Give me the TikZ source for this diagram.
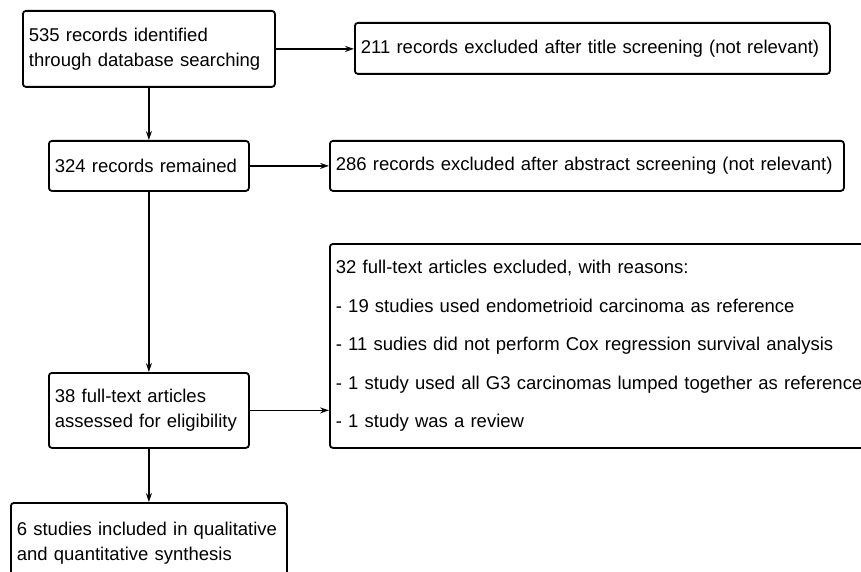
\documentclass[tikz,border=0pt]{standalone}
\usepackage{fontspec}
\setmainfont{Liberation Sans}
\usetikzlibrary{arrows.meta}

\tikzset{
  box/.style={draw, rounded corners=3pt, line width=1.8pt, anchor=north west,
    align=left, inner xsep=6pt, inner ysep=0pt,
    font=\fontsize{18.5}{25}\selectfont},
  reasons/.style={box, font=\fontsize{18.5}{38.5}\selectfont}
}

\begin{document}
\begin{tikzpicture}[>={Stealth[length=9pt,width=6pt]}, x=1pt, y=-1pt, line width=1.8pt]
    \clip (0,0) rectangle (861,572);
    % boxes on the left
    \node[box, text width=240pt, minimum height=76pt] (found) at (22,10) {535 records identified\\through database searching};
    \node[box, text width=188pt, minimum height=50pt] (remain) at (48,140) {324 records remained};
    \node[box, text width=188pt, minimum height=75pt] (full) at (48,372) {38 full-text articles\\assessed for eligibility};
    \node[box, text width=264pt, minimum height=80pt] (incl) at (10,502) {6 studies included in qualitative\\and quantitative synthesis};
    % exclusions on the right
    \node[box, text width=463pt, minimum height=51pt] (title) at (354,22) {211 records excluded after title screening (not relevant)};
    \node[box, text width=502pt, minimum height=50pt] (abstr) at (329,140) {286 records excluded after abstract screening (not relevant)};
    \node[reasons, text width=560pt, minimum height=204pt] (why) at (329,243) {32 full-text articles excluded, with reasons:\\
      - 19 studies used endometrioid carcinoma as reference\\
      - 11 sudies did not perform Cox regression survival analysis\\
      - 1 study used all G3 carcinomas lumped together as reference\\
      - 1 study was a review};
    % arrows
    \draw[->] (found.south) -- (remain.north);
    \draw[->] (remain.south) -- (full.north);
    \draw[->] (full.south) -- (incl.north);
    \draw[->] (found.east) -- (found.east -| title.west);
    \draw[->] (remain.east) -- (remain.east -| abstr.west);
    \draw[->] (full.east) -- (full.east -| why.west);
\end{tikzpicture}
\end{document}
